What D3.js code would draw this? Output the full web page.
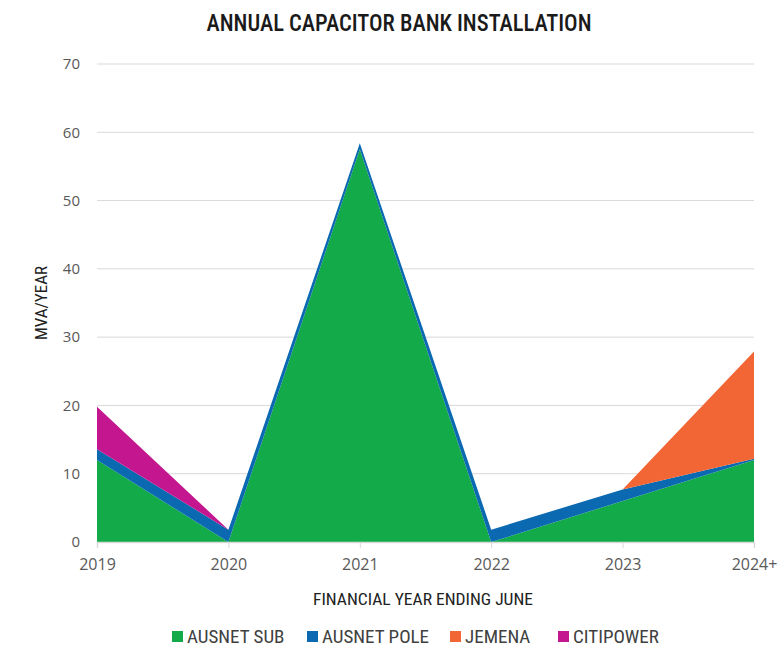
<!DOCTYPE html>
<html>
<head>
<meta charset="utf-8">
<script src="https://cdn.jsdelivr.net/npm/d3@7"></script>
<style>
  body { margin: 0; background: #fff; }
  .cond { font-family: "Liberation Sans Narrow", "Roboto Condensed", "Arial Narrow", sans-serif; }
</style>
</head>
<body>
<script>
// chart data
const years = ["2019", "2020", "2021", "2022", "2023", "2024+"];
const ausnetSub = [12, 0, 57.5, 0, 6, 12];
const ausnetPole = [1.6, 1.8, 0.9, 1.8, 1.7, 0.2];
const jemena = [0, 0, 0, 0, 0, 15.7];
const citipower = [6.2, 0, 0, 0, 0, 0];
const seriesNames = ["AUSNET SUB", "AUSNET POLE", "JEMENA", "CITIPOWER"];
const seriesColors = ["#13ab4a", "#0a69b0", "#f26535", "#c4168f"];
const yTicks = [0, 10, 20, 30, 40, 50, 60, 70];

const width = 780, height = 648;
const margin = {left: 97, right: 26, top: 64, bottom: 106};

const svg = d3.select("body").append("svg")
    .attr("width", width)
    .attr("height", height);

const x = d3.scalePoint().domain(years).range([margin.left, width - margin.right]);
const y = d3.scaleLinear().domain([0, 70]).range([height - margin.bottom, margin.top]);

// build table for stacking
const rows = years.map((yr, i) => ({
    year: yr,
    "AUSNET SUB": ausnetSub[i],
    "AUSNET POLE": ausnetPole[i],
    "JEMENA": jemena[i],
    "CITIPOWER": citipower[i]
}));
const stacked = d3.stack().keys(seriesNames)(rows);

// gridlines
svg.append("g")
  .selectAll("line")
  .data(yTicks.slice(1))
  .join("line")
    .attr("x1", margin.left)
    .attr("x2", width - margin.right)
    .attr("y1", d => y(d))
    .attr("y2", d => y(d))
    .attr("stroke", "#d9d9d9")
    .attr("stroke-width", 1);

// areas
const area = d3.area()
    .x(d => x(d.data.year))
    .y0(d => y(d[0]))
    .y1(d => y(d[1]));

svg.append("g")
  .selectAll("path")
  .data(stacked)
  .join("path")
    .attr("d", area)
    .attr("fill", (d, i) => seriesColors[i]);

// x axis
const xAxis = svg.append("g")
    .attr("transform", `translate(0,${y(0)})`)
    .call(d3.axisBottom(x).tickSize(6).tickPadding(11));
xAxis.select(".domain").attr("stroke", "#d9d9d9").attr("stroke-width", 1.5);
xAxis.selectAll(".tick line").attr("stroke", "#d9d9d9");
xAxis.selectAll("text")
    .attr("fill", "#595959")
    .style("font-family", "'Open Sans', sans-serif")
    .style("font-size", "16px");

// y axis
const yAxis = svg.append("g")
    .attr("transform", `translate(${margin.left},0)`)
    .call(d3.axisLeft(y).tickValues(yTicks).tickSize(0).tickPadding(17));
yAxis.select(".domain").remove();
yAxis.selectAll("text")
    .attr("fill", "#595959")
    .style("font-family", "'Open Sans', sans-serif")
    .style("font-size", "15px");

// title
svg.append("text")
    .attr("class", "cond")
    .attr("x", 399)
    .attr("y", 31)
    .attr("text-anchor", "middle")
    .attr("fill", "#1a1a1a")
    .attr("textLength", 385)
    .attr("lengthAdjust", "spacingAndGlyphs")
    .style("font-size", "24px")
    .style("font-weight", "500")
    .text("ANNUAL CAPACITOR BANK INSTALLATION");

// axis titles
svg.append("text")
    .attr("class", "cond")
    .attr("transform", `translate(47,${(y(0) + y(70)) / 2}) rotate(-90)`)
    .attr("text-anchor", "middle")
    .attr("fill", "#222")
    .style("font-size", "17px")
    .text("MVA/YEAR");

svg.append("text")
    .attr("class", "cond")
    .attr("x", 423)
    .attr("y", 605)
    .attr("text-anchor", "middle")
    .attr("fill", "#222")
    .attr("textLength", 220)
    .attr("lengthAdjust", "spacingAndGlyphs")
    .style("font-size", "17px")
    .text("FINANCIAL YEAR ENDING JUNE");

// legend
const legendX = [172, 307, 450, 558];
const legend = svg.append("g")
  .selectAll("g")
  .data(seriesNames)
  .join("g")
    .attr("transform", (d, i) => `translate(${legendX[i]},631)`);
legend.append("rect")
    .attr("width", 11)
    .attr("height", 11)
    .attr("fill", (d, i) => seriesColors[i]);
legend.append("text")
    .attr("class", "cond")
    .attr("x", 15)
    .attr("y", 12)
    .attr("fill", "#404040")
    .style("font-size", "19px")
    .text(d => d);
</script>
</body>
</html>
